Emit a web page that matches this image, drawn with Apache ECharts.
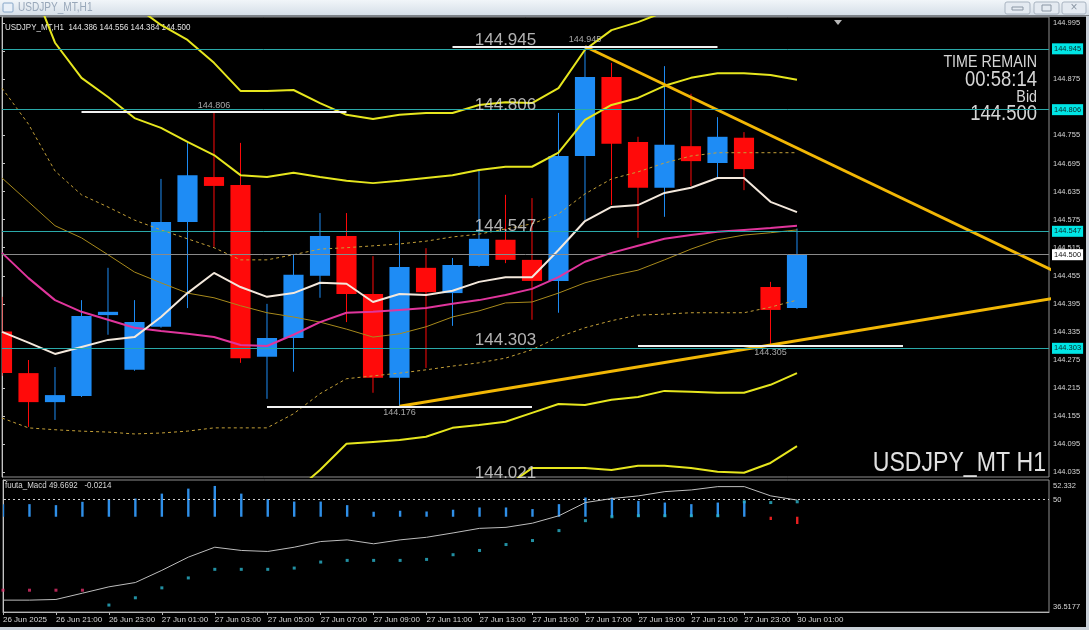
<!DOCTYPE html>
<html>
<head>
<meta charset="utf-8">
<title>USDJPY_MT,H1</title>
<script src="https://cdn.jsdelivr.net/npm/echarts@6/dist/echarts.min.js"></script>
<style>
    html, body { margin: 0; padding: 0; background: #000; overflow: hidden; }
    #grafico { width: 1089px; height: 630px; }
</style>
</head>
<body>
<div id="grafico"></div>
<script>
// Velas H1 (26 Jun 19:00 -> 30 Jun 01:00), indice = barra
const OPEN  = [144.336, 144.247, 144.185, 144.198, 144.371, 144.254, 144.346, 144.570, 144.666, 144.649, 144.282, 144.322, 144.455, 144.540, 144.416, 144.237, 144.472, 144.418, 144.476, 144.532, 144.489, 144.444, 144.711, 144.880, 144.741, 144.643, 144.732, 144.696, 144.750, 144.431, 144.386];
const HIGH  = [144.410, 144.275, 144.260, 144.403, 144.472, 144.403, 144.662, 144.741, 144.806, 144.739, 144.395, 144.500, 144.589, 144.589, 144.497, 144.551, 144.514, 144.493, 144.681, 144.628, 144.621, 144.803, 144.945, 144.910, 144.752, 144.903, 144.844, 144.794, 144.762, 144.442, 144.556];
const LOW   = [144.241, 144.132, 144.147, 144.196, 144.329, 144.252, 144.344, 144.386, 144.517, 144.269, 144.192, 144.250, 144.408, 144.356, 144.205, 144.176, 144.258, 144.348, 144.474, 144.482, 144.361, 144.376, 144.574, 144.606, 144.536, 144.581, 144.647, 144.664, 144.638, 144.305, 144.384];
const CLOSE = [144.247, 144.185, 144.200, 144.369, 144.378, 144.356, 144.570, 144.670, 144.647, 144.279, 144.322, 144.457, 144.540, 144.416, 144.237, 144.474, 144.420, 144.478, 144.534, 144.489, 144.444, 144.711, 144.880, 144.737, 144.643, 144.735, 144.700, 144.752, 144.683, 144.382, 144.500];

// Medias moviles
const MA_WHITE = [144.335, 144.312, 144.288, 144.303, 144.318, 144.324, 144.367, 144.418, 144.461, 144.431, 144.410, 144.418, 144.440, 144.438, 144.399, 144.416, 144.414, 144.423, 144.442, 144.452, 144.452, 144.510, 144.572, 144.602, 144.606, 144.632, 144.643, 144.664, 144.664, 144.613, 144.591];
const MA_OLIVE = [144.664, 144.613, 144.562, 144.536, 144.500, 144.463, 144.440, 144.418, 144.408, 144.391, 144.376, 144.367, 144.356, 144.341, 144.324, 144.331, 144.346, 144.367, 144.380, 144.397, 144.399, 144.418, 144.440, 144.455, 144.467, 144.489, 144.512, 144.532, 144.542, 144.547, 144.553];

// Bandas de Bollinger (centro rosa, 1/2/3 sigma)
const BB_MID = [144.504, 144.450, 144.403, 144.378, 144.361, 144.344, 144.337, 144.331, 144.324, 144.307, 144.305, 144.329, 144.356, 144.376, 144.378, 144.382, 144.386, 144.395, 144.403, 144.414, 144.427, 144.452, 144.485, 144.504, 144.519, 144.534, 144.542, 144.549, 144.553, 144.557, 144.562];
const BB_UP1 = [144.856, 144.779, 144.679, 144.628, 144.602, 144.574, 144.553, 144.534, 144.515, 144.489, 144.489, 144.500, 144.512, 144.515, 144.519, 144.523, 144.529, 144.538, 144.544, 144.555, 144.566, 144.587, 144.630, 144.662, 144.677, 144.696, 144.711, 144.718, 144.718, 144.718, 144.718];
const BB_LO1 = [144.151, 144.130, 144.126, 144.123, 144.121, 144.117, 144.119, 144.123, 144.130, 144.130, 144.130, 144.160, 144.203, 144.235, 144.241, 144.247, 144.254, 144.262, 144.269, 144.279, 144.297, 144.324, 144.344, 144.359, 144.371, 144.373, 144.376, 144.376, 144.376, 144.388, 144.403];
const BB_UP2 = [145.209, 145.096, 144.953, 144.878, 144.837, 144.792, 144.771, 144.741, 144.713, 144.670, 144.666, 144.675, 144.666, 144.658, 144.653, 144.658, 144.664, 144.670, 144.681, 144.688, 144.688, 144.718, 144.788, 144.820, 144.835, 144.861, 144.878, 144.888, 144.888, 144.884, 144.874];
const BB_LO2 = [143.799, 143.805, 143.850, 143.871, 143.880, 143.888, 143.901, 143.918, 143.938, 143.950, 143.950, 143.991, 144.040, 144.096, 144.100, 144.104, 144.111, 144.130, 144.136, 144.143, 144.162, 144.181, 144.179, 144.190, 144.196, 144.209, 144.207, 144.205, 144.205, 144.222, 144.247];
const BB_UP3 = [145.562, 145.421, 145.232, 145.132, 145.083, 145.032, 144.991, 144.959, 144.910, 144.850, 144.850, 144.852, 144.824, 144.799, 144.790, 144.799, 144.803, 144.803, 144.820, 144.826, 144.824, 144.856, 144.938, 144.980, 144.997, 145.019, 145.046, 145.059, 145.059, 145.046, 145.032];
const BB_LO3 = [143.446, 143.480, 143.572, 143.619, 143.640, 143.660, 143.685, 143.713, 143.745, 143.771, 143.771, 143.820, 143.893, 143.955, 143.963, 143.972, 143.978, 143.987, 143.993, 144.004, 144.044, 144.044, 144.044, 144.040, 144.049, 144.049, 144.044, 144.036, 144.034, 144.055, 144.091];

// Oscilador inferior (fuuta_Macd)
const MACD_BASE = 47.93;
const MACD_HIST   = [49.44, 49.44, 49.32, 49.72, 50.04, 50.11, 50.70, 51.30, 51.62, 50.70, 50.04, 49.75, 49.75, 49.32, 48.53, 48.65, 48.56, 48.77, 49.04, 49.04, 48.85, 49.44, 50.23, 50.23, 49.83, 49.63, 49.44, 49.63, 49.83, 47.54, 47.06];
const MACD_MAIN   = [37.94, 37.94, 38.02, 38.77, 39.53, 40.05, 41.51, 43.09, 44.28, 43.89, 43.77, 44.28, 44.96, 45.16, 44.69, 45.16, 45.47, 45.99, 46.54, 46.66, 47.16, 48.05, 49.63, 50.11, 50.43, 50.94, 51.14, 51.54, 51.54, 50.43, 49.92];
const MACD_SIGNAL = [39.13, 39.13, 39.13, 39.13, 37.35, 38.22, 39.41, 40.60, 41.63, 41.63, 41.63, 41.78, 42.50, 42.70, 42.70, 42.70, 42.82, 43.38, 43.89, 44.60, 45.08, 46.27, 47.46, 47.93, 48.05, 48.05, 48.05, 48.05, 49.72, 49.63, 49.72];
const MACD_LEVEL = 50;

// Ejes
const X_LABEL_BARS = [0, 2, 4, 6, 8, 10, 12, 14, 16, 18, 20, 22, 24, 26, 28, 30];
const X_LABELS = ['26 Jun 2025', '26 Jun 21:00', '26 Jun 23:00', '27 Jun 01:00', '27 Jun 03:00', '27 Jun 05:00', '27 Jun 07:00', '27 Jun 09:00', '27 Jun 11:00', '27 Jun 13:00', '27 Jun 15:00', '27 Jun 17:00', '27 Jun 19:00', '27 Jun 21:00', '27 Jun 23:00', '30 Jun 01:00'];
const PRICE_TICKS = [144.035, 144.095, 144.155, 144.215, 144.275, 144.335, 144.395, 144.455, 144.515, 144.575, 144.635, 144.695, 144.755, 144.875, 144.935, 144.995];
const MACD_TICKS = [36.5177, 50, 52.332];

// Niveles, maximos/minimos y lineas de tendencia
const CYAN_LEVELS = [144.945, 144.806, 144.547, 144.303];
const BID = 144.500;
const BIG_LABEL_PRICES = [144.945, 144.806, 144.547, 144.303, 144.021];
const BIG_LABEL_BAR = 19;
const SWING_PRICES = [144.945, 144.806, 144.176, 144.305];
const SWING_BARS = [22, 8, 15, 29];
const TREND_DOWN = [[22, 144.945], [40, 144.457]];
const TREND_UP = [[15, 144.176], [40, 144.410]];

const FUENTE = "'Liberation Sans', Arial, sans-serif";
const TEXTO = '#d6d6d6';
const COLOR_SUBE = '#1e8cf5';
const COLOR_BAJA = '#ff0a0a';
const X_MAX = 39.51;
const ESTRECHO = 0.84;   // la captura original esta comprimida en horizontal

function puntos(serie) {
    return serie.map((v, i) => [i, v]);
}

function pintarVela(params, api) {
    const i = api.value(0);
    const abre = api.value(1), cierra = api.value(2);
    const pAbre = api.coord([i, abre]);
    const pCierra = api.coord([i, cierra]);
    const pBajo = api.coord([i, api.value(3)]);
    const pAlto = api.coord([i, api.value(4)]);
    const ancho = api.size([1, 0])[0] * 0.76;
    const color = cierra >= abre ? COLOR_SUBE : COLOR_BAJA;
    const yArriba = Math.min(pAbre[1], pCierra[1]);
    return {
        type: 'group',
        children: [
            {type: 'line', shape: {x1: pAlto[0], y1: pAlto[1], x2: pBajo[0], y2: pBajo[1]}, style: {stroke: color, lineWidth: 1}},
            {type: 'rect', shape: {x: pAbre[0] - ancho / 2, y: yArriba, width: ancho, height: Math.max(Math.abs(pAbre[1] - pCierra[1]), 1.5)}, style: {fill: color}}
        ]
    };
}

function pintarHistograma(params, api) {
    const i = api.value(0), v = api.value(1);
    const base = api.coord([i, MACD_BASE]);
    const tope = api.coord([i, v]);
    return {
        type: 'rect',
        shape: {x: base[0] - 1.2, y: Math.min(base[1], tope[1]), width: 2.4, height: Math.abs(tope[1] - base[1])},
        style: {fill: v >= MACD_BASE ? '#2f8fe8' : '#e82020'}
    };
}

function linea(nombre, datos, color, ancho, tipo, z) {
    return {
        name: nombre, type: 'line', xAxisIndex: 0, yAxisIndex: 0,
        data: datos, symbol: 'none', z: z || 3,
        lineStyle: {color: color, width: ancho, type: tipo || 'solid'}
    };
}

function etiquetaEje(extra) {
    return Object.assign({color: TEXTO, fontSize: 7.5, fontFamily: FUENTE}, extra);
}

// Texto fijo de la ventana, comprimido como en la captura
function texto(x, y, contenido, size, color, align) {
    return {
        type: 'text', x: x, y: y, scaleX: ESTRECHO, silent: true,
        style: {text: contenido, fill: color, fontSize: size, fontFamily: FUENTE, align: align || 'left', verticalAlign: 'middle'}
    };
}

function pintarGrafico(idContenedor = 'grafico') {
    const myChart = echarts.init(document.getElementById(idContenedor), null, {renderer: 'canvas'});

    // Lineas horizontales con su caja en el eje de precios
    const cajaEje = {show: true, position: 'end', distance: 3, fontSize: 7.5, fontFamily: FUENTE, padding: [2, 2, 1, 2]};
    const niveles = CYAN_LEVELS.map(v => ({
        yAxis: v,
        lineStyle: {color: '#2aa9a9', width: 1, type: 'solid'},
        label: Object.assign({formatter: v.toFixed(3), backgroundColor: '#00e5e5', color: '#0b2b2b'}, cajaEje)
    }));
    niveles.push({
        yAxis: BID,
        lineStyle: {color: '#8a8a8a', width: 1, type: 'solid'},
        label: Object.assign({formatter: BID.toFixed(3), backgroundColor: '#ffffff', color: '#111'}, cajaEje)
    });
    // Segmentos blancos en maximos y minimos
    const segmentos = SWING_PRICES.map((p, k) => [
        {coord: [SWING_BARS[k] - 5, p], lineStyle: {color: '#f2f2f2', width: 2, type: 'solid'}, label: {show: false}},
        {coord: [SWING_BARS[k] + 5, p]}
    ]);

    const option = {
        animation: false,
        backgroundColor: '#000',
        textStyle: {fontFamily: FUENTE},
        grid: [
            {left: 2, right: 40, top: 17, height: 460, show: true, borderColor: '#8e8e8e', borderWidth: 1, backgroundColor: '#000'},
            {left: 2, right: 40, top: 480, height: 132, show: true, borderColor: '#8e8e8e', borderWidth: 1, backgroundColor: '#000'}
        ],
        xAxis: [
            {gridIndex: 0, type: 'value', min: 0, max: X_MAX, show: false},
            {
                gridIndex: 1, type: 'value', min: 0, max: X_MAX,
                splitLine: {show: false},
                axisLine: {show: true, onZero: false, lineStyle: {color: '#b4b4b4'}},
                axisTick: {show: true, customValues: X_LABEL_BARS, length: 3, lineStyle: {color: '#b4b4b4'}},
                axisLabel: etiquetaEje({
                    customValues: X_LABEL_BARS, align: 'left', margin: 4, fontSize: 8,
                    formatter: v => X_LABELS[X_LABEL_BARS.indexOf(v)]
                })
            }
        ],
        yAxis: [
            {
                gridIndex: 0, type: 'value', position: 'right', min: 144.025, max: 145.008,
                splitLine: {show: false},
                axisLine: {show: true, lineStyle: {color: '#c4c4c4'}},
                axisTick: {show: true, customValues: PRICE_TICKS, length: 3, lineStyle: {color: '#c4c4c4'}},
                axisLabel: etiquetaEje({customValues: PRICE_TICKS, margin: 4, formatter: v => v.toFixed(3)})
            },
            {
                gridIndex: 1, type: 'value', position: 'right', min: 36.5177, max: 52.332,
                splitLine: {show: false},
                axisLine: {show: true, lineStyle: {color: '#c4c4c4'}},
                axisTick: {show: true, customValues: MACD_TICKS, length: 3, lineStyle: {color: '#c4c4c4'}},
                axisLabel: etiquetaEje({
                    customValues: MACD_TICKS, margin: 4,
                    formatter: v => v === 52.332 ? '{t|52.332}' : (v === 36.5177 ? '{b|36.5177}' : '{n|50}'),
                    rich: {
                        t: {color: TEXTO, fontSize: 7.5, fontFamily: FUENTE, padding: [11, 0, 0, 0]},
                        b: {color: TEXTO, fontSize: 7.5, fontFamily: FUENTE, padding: [0, 0, 10, 0]},
                        n: {color: TEXTO, fontSize: 7.5, fontFamily: FUENTE}
                    }
                })
            }
        ],
        series: [
            {
                name: 'Niveles', type: 'line', xAxisIndex: 0, yAxisIndex: 0, data: [], z: 1,
                markLine: {silent: true, symbol: ['none', 'none'], animation: false, data: niveles.concat(segmentos)}
            },
            {
                name: 'Velas', type: 'custom', xAxisIndex: 0, yAxisIndex: 0, z: 2, clip: true,
                renderItem: pintarVela, encode: {x: 0, y: [1, 2, 3, 4]},
                data: OPEN.map((o, i) => [i, o, CLOSE[i], LOW[i], HIGH[i]])
            },
            linea('BB +3', puntos(BB_UP3), '#e6e61e', 2),
            linea('BB +2', puntos(BB_UP2), '#e6e61e', 2),
            linea('BB -2', puntos(BB_LO2), '#e6e61e', 2),
            linea('BB -3', puntos(BB_LO3), '#e6e61e', 2),
            linea('BB +1', puntos(BB_UP1), '#c4a038', 1, [3, 3]),
            linea('BB -1', puntos(BB_LO1), '#c4a038', 1, [3, 3]),
            linea('MA olive', puntos(MA_OLIVE), '#a88a1c', 1),
            linea('BB mid', puntos(BB_MID), '#e0359c', 2),
            linea('MA white', puntos(MA_WHITE), '#f3e8dc', 2),
            linea('Tendencia baja', TREND_DOWN, '#f2b705', 3, 'solid', 4),
            linea('Tendencia alta', TREND_UP, '#f2b705', 3, 'solid', 4),
            {
                name: 'Etiquetas grandes', type: 'scatter', xAxisIndex: 0, yAxisIndex: 0, z: 5, clip: false,
                symbolSize: 0, silent: true,
                data: BIG_LABEL_PRICES.map((p, k) => ({
                    value: [BIG_LABEL_BAR, p],
                    label: k === BIG_LABEL_PRICES.length - 1 ? {offset: [0, 1]} : {}
                })),
                label: {
                    show: true, position: 'top', distance: -2, color: '#dedede', fontSize: 17, fontFamily: FUENTE,
                    formatter: p => p.value[1].toFixed(3)
                }
            },
            {
                name: 'Etiquetas max/min', type: 'scatter', xAxisIndex: 0, yAxisIndex: 0, z: 5, clip: false,
                symbolSize: 0, silent: true,
                data: SWING_PRICES.map((p, k) => ({
                    value: [SWING_BARS[k], p],
                    label: {position: k < 2 ? 'top' : 'bottom'}
                })),
                label: {
                    show: true, distance: 2, color: '#d0d0d0', fontSize: 9, fontFamily: FUENTE,
                    formatter: p => p.value[1].toFixed(3)
                }
            },
            // Panel inferior
            {
                name: 'Histograma', type: 'custom', xAxisIndex: 1, yAxisIndex: 1, z: 2, clip: true,
                renderItem: pintarHistograma, encode: {x: 0, y: 1},
                data: puntos(MACD_HIST)
            },
            {
                name: 'Macd', type: 'line', xAxisIndex: 1, yAxisIndex: 1, z: 3, symbol: 'none',
                data: puntos(MACD_MAIN), lineStyle: {color: '#bdbdbd', width: 1},
                markLine: {
                    silent: true, symbol: ['none', 'none'], animation: false, label: {show: false},
                    lineStyle: {color: '#cfcfcf', width: 1, type: [2, 3]},
                    data: [{yAxis: MACD_LEVEL}]
                }
            },
            {
                name: 'Senal', type: 'scatter', xAxisIndex: 1, yAxisIndex: 1, z: 4, symbol: 'rect', symbolSize: 3,
                data: puntos(MACD_SIGNAL),
                itemStyle: {color: p => MACD_SIGNAL[p.dataIndex] > MACD_MAIN[p.dataIndex] ? '#e0306a' : '#2ab4cc'}
            }
        ],
        graphic: [
            // Barra de titulo de la ventana
            {type: 'rect', x: 0, y: 0, shape: {width: 1089, height: 16}, silent: true,
                style: {fill: new echarts.graphic.LinearGradient(0, 0, 0, 1, [{offset: 0, color: '#f1f5f9'}, {offset: 1, color: '#d4dde7'}])}},
            {type: 'rect', x: 0, y: 15, shape: {width: 1089, height: 2}, silent: true, style: {fill: '#7d8288'}},
            {type: 'rect', x: 3, y: 3, shape: {width: 10, height: 9, r: 1}, silent: true, style: {fill: '#e9f0f8', stroke: '#86a6c8', lineWidth: 1}},
            texto(18, 8, 'USDJPY_MT,H1', 12, '#98a7b9'),
            {type: 'rect', x: 1005, y: 2, shape: {width: 25, height: 12, r: 2}, silent: true, style: {fill: '#e4eaf1', stroke: '#a9b4c1'}},
            {type: 'rect', x: 1034, y: 2, shape: {width: 25, height: 12, r: 2}, silent: true, style: {fill: '#e4eaf1', stroke: '#a9b4c1'}},
            {type: 'rect', x: 1062, y: 2, shape: {width: 24, height: 12, r: 2}, silent: true, style: {fill: '#e4eaf1', stroke: '#a9b4c1'}},
            {type: 'rect', x: 1012, y: 7, shape: {width: 11, height: 3}, silent: true, style: {fill: 'none', stroke: '#8a96a4'}},
            {type: 'rect', x: 1042, y: 5, shape: {width: 9, height: 6}, silent: true, style: {fill: 'none', stroke: '#8a96a4'}},
            {type: 'text', x: 1074, y: 8, silent: true, style: {text: '×', fill: '#8a96a4', fontSize: 12, align: 'center', verticalAlign: 'middle'}},
            {type: 'polygon', silent: true, shape: {points: [[834, 20], [842, 20], [838, 25]]}, style: {fill: '#b8b8b8'}},
            // Marco
            {type: 'rect', x: 1086, y: 16, shape: {width: 3, height: 614}, silent: true, style: {fill: '#c9d0d8'}},
            {type: 'rect', x: 0, y: 627, shape: {width: 1089, height: 3}, silent: true, style: {fill: '#c9d0d8'}},
            // Textos del grafico
            texto(5, 27, `USDJPY_MT,H1  ${OPEN[30].toFixed(3)} ${HIGH[30].toFixed(3)} ${LOW[30].toFixed(3)} ${CLOSE[30].toFixed(3)}`, 9.5, '#e2e2e2'),
            texto(5, 485, 'fuuta_Macd 49.6692   -0.0214', 9.5, '#d8d8d8'),
            texto(1037, 62, 'TIME REMAIN', 17, '#d6d6d6', 'right'),
            texto(1037, 80, '00:58:14', 22, '#d6d6d6', 'right'),
            texto(1037, 97, 'Bid', 17, '#d6d6d6', 'right'),
            texto(1037, 114, CLOSE[30].toFixed(3), 22, '#d6d6d6', 'right'),
            texto(1046, 463, 'USDJPY_MT H1', 27.5, '#e0e0e0', 'right')
        ]
    };

    myChart.setOption(option);
    window.addEventListener('resize', () => myChart.resize());
}

pintarGrafico();
</script>
</body>
</html>
